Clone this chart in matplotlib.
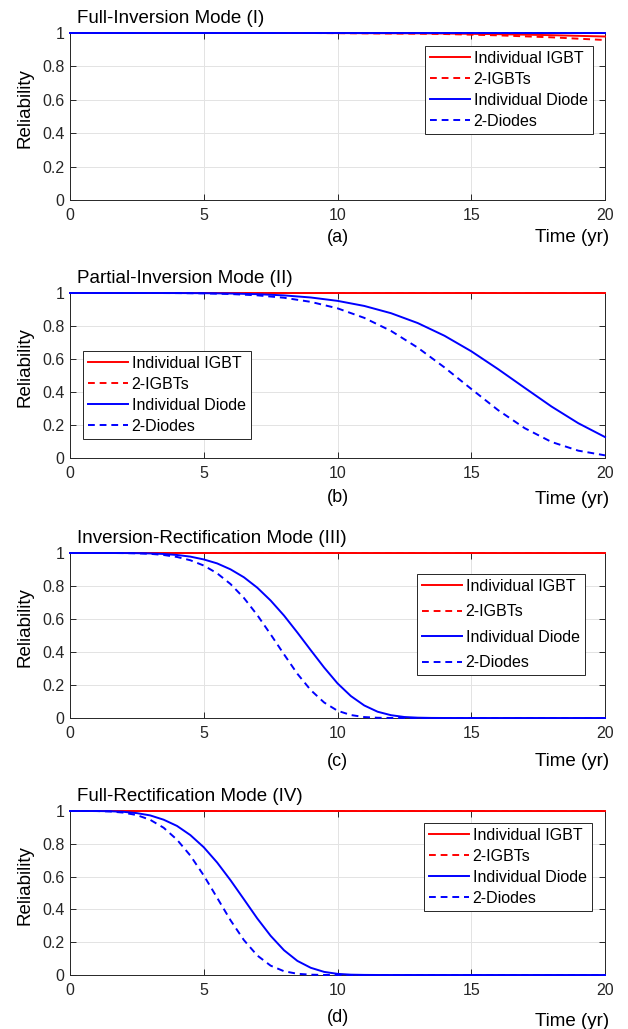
import numpy as np
import matplotlib
matplotlib.use("Agg")
import matplotlib.pyplot as plt

plt.rcParams['font.family'] = ['Liberation Sans', 'DejaVu Sans']

# ---- data ----
t_int = np.arange(0, 21, 1)        # panels (a), (b)
t_half = np.arange(0, 20.5, 0.5)   # panels (c), (d)

ones_int = [1.0] * 21
ones_half = [1.0] * 41

# (a) Full-Inversion Mode
a_igbt = [1, 1, 1, 1, 1, 1, 1, 1, 1, 1, 0.9995, 0.999, 0.9985, 0.998, 0.997,
          0.995, 0.993, 0.990, 0.987, 0.983, 0.979]
a_2igbt = [1, 1, 1, 1, 1, 1, 1, 1, 1, 1, 0.999, 0.998, 0.997, 0.996, 0.994,
           0.990, 0.986, 0.980, 0.974, 0.966, 0.958]
a_diode = ones_int
a_2diode = ones_int

# (b) Partial-Inversion Mode
b_diode = [1, 1, 1, 1, 0.9997, 0.9989, 0.9969, 0.9929, 0.9855, 0.9728, 0.9524,
           0.9216, 0.8776, 0.8178, 0.7408, 0.647, 0.539, 0.425, 0.312, 0.211, 0.127]
b_2diode = [1, 1, 1, 1, 0.9994, 0.9978, 0.9938, 0.9859, 0.9712, 0.9463, 0.9071,
            0.8493, 0.7702, 0.6688, 0.5488, 0.4186, 0.2905, 0.1806, 0.0973, 0.0445, 0.0161]

# (c) Inversion-Rectification Mode
c_diode = [1, 1, 1, 1, 0.9997, 0.999, 0.9974, 0.994, 0.988, 0.978, 0.961, 0.937,
           0.901, 0.853, 0.790, 0.712, 0.621, 0.518, 0.411, 0.306, 0.210, 0.133,
           0.076, 0.038, 0.017, 0.006, 0.002, 0.0005, 0.0001] + [0] * 12
c_2diode = [1, 1, 1, 1, 0.9994, 0.998, 0.995, 0.988, 0.976, 0.956, 0.924, 0.877,
            0.812, 0.728, 0.624, 0.507, 0.386, 0.268, 0.169, 0.094, 0.044, 0.018,
            0.0057, 0.0015, 0.0003] + [0] * 16

# (d) Full-Rectification Mode
d_diode = [1, 1, 0.9998, 0.9986, 0.995, 0.987, 0.973, 0.947, 0.909, 0.853, 0.779,
           0.686, 0.578, 0.462, 0.345, 0.239, 0.151, 0.086, 0.044, 0.019, 0.007,
           0.002, 0.0006, 0.0001] + [0] * 17
d_2diode = [1, 1, 0.9996, 0.997, 0.990, 0.975, 0.946, 0.898, 0.825, 0.728, 0.607,
            0.471, 0.334, 0.213, 0.119, 0.057, 0.023, 0.0074, 0.0019, 0.0004] + [0] * 21

labels = ["Individual IGBT", "2-IGBTs", "Individual Diode", "2-Diodes"]
titles = ["Full-Inversion Mode (I)", "Partial-Inversion Mode (II)",
          "Inversion-Rectification Mode (III)", "Full-Rectification Mode (IV)"]
tags = ["(a)", "(b)", "(c)", "(d)"]

panels = [
    (t_int, a_igbt, a_2igbt, a_diode, a_2diode),
    (t_int, ones_int, ones_int, b_diode, b_2diode),
    (t_half, ones_half, ones_half, c_diode, c_2diode),
    (t_half, ones_half, ones_half, d_diode, d_2diode),
]

# ---- layout (pixels) ----
W, H = 628, 1029
left_px, right_px = 70, 605
tops = [33, 293, 553, 811]
bottoms = [200, 458, 718, 975]
leg_ul = [(425, 46), (83, 351), (417, 574), (424, 823)]
leg_space = [0.38, 0.38, 0.66, 0.38]
tag_off = [38, 40, 43, 42]
time_off = [37, 42, 44, 46]

axcol = "#262626"
fig = plt.figure(figsize=(W / 100, H / 100), dpi=100)

for i, (t, r1, r2, r3, r4) in enumerate(panels):
    ax = fig.add_axes([left_px / W, 1 - bottoms[i] / H,
                       (right_px - left_px) / W, (bottoms[i] - tops[i]) / H])
    ax.plot(t, r1, color=(1, 0, 0), lw=1.4, label=labels[0], clip_on=False, zorder=3)
    ax.plot(t, r2, color=(1, 0, 0), lw=1.4, ls=(0, (3.5, 2.5)), label=labels[1],
            clip_on=False, zorder=3)
    ax.plot(t, r3, color=(0, 0, 1), lw=1.4, label=labels[2], clip_on=False, zorder=3)
    ax.plot(t, r4, color=(0, 0, 1), lw=1.4, ls=(0, (3.5, 2.5)), label=labels[3],
            clip_on=False, zorder=3)

    ax.set_xlim(0, 20)
    ax.set_ylim(0, 1)
    ax.set_xticks([0, 5, 10, 15, 20])
    ax.set_yticks([0, 0.2, 0.4, 0.6, 0.8, 1])
    ax.set_yticklabels(["0", "0.2", "0.4", "0.6", "0.8", "1"])
    ax.tick_params(direction="in", length=4, width=0.7, colors=axcol,
                   labelsize=11.5, top=True, right=True)
    ax.tick_params(axis="x", pad=6)
    ax.tick_params(axis="y", pad=4)
    for s in ax.spines.values():
        s.set_color(axcol)
        s.set_linewidth(0.7)
    ax.grid(True, color="#e3e3e3", lw=0.7)
    ax.set_axisbelow(True)

    ax.set_ylabel("Reliability", fontsize=13.5, color="black")
    ax.yaxis.set_label_coords(-0.068, 0.55)

    ax.annotate(titles[i], xy=(0, 1), xycoords="axes fraction",
                xytext=(5, 7.2), textcoords="offset points",
                ha="left", va="baseline", fontsize=13.5)
    ax.annotate(tags[i], xy=(0.5, 0), xycoords="axes fraction",
                xytext=(0, -tag_off[i] * 0.72), textcoords="offset points",
                ha="center", va="center", fontsize=13)
    ax.annotate("Time (yr)", xy=(1, 0), xycoords="axes fraction",
                xytext=(3, -time_off[i] * 0.72), textcoords="offset points",
                ha="right", va="center", fontsize=13.5)

    lx = (leg_ul[i][0] - left_px) / (right_px - left_px)
    ly = (bottoms[i] - leg_ul[i][1]) / (bottoms[i] - tops[i])
    leg = ax.legend(loc="upper left", bbox_to_anchor=(lx, ly), borderaxespad=0,
                    fontsize=11.5, fancybox=False, framealpha=1,
                    handlelength=2.5, handletextpad=0.25, borderpad=0.3,
                    labelspacing=leg_space[i])
    leg.get_frame().set_edgecolor(axcol)
    leg.get_frame().set_linewidth(0.7)

fig.savefig("out.png", dpi=100)
